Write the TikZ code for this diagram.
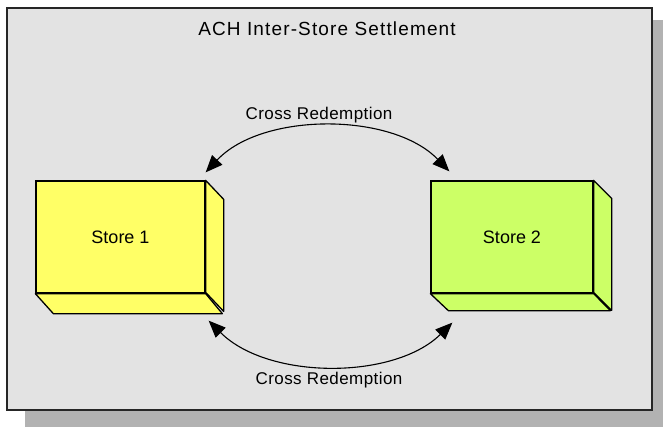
\documentclass[tikz,border=0pt]{standalone}
\usepackage{fontspec}
\setmainfont{Liberation Sans}
\usetikzlibrary{arrows.meta,calc}
\definecolor{bgpanel}{HTML}{E3E3E3}
\definecolor{shadowgray}{HTML}{B2B2B2}
\definecolor{storeyellow}{HTML}{FFFF66}
\definecolor{storelime}{HTML}{CCFF66}
\tikzset{
  storebox/.style={draw=black, line width=1.3pt, minimum width=#1, minimum height=112pt, inner sep=0pt,
    font=\fontsize{18}{20}\selectfont},
  boxface/.style={draw=black, line width=1.3pt, line join=round},
  redeem/.style={draw=black, line width=1.1pt,
    {Triangle[length=17pt,width=14pt]}-{Triangle[length=17pt,width=14pt]}},
  redeemlabel/.style={font=\fontsize{17}{19}\selectfont\addfontfeature{LetterSpace=2.5}, inner sep=0pt},
  titlelabel/.style={font=\fontsize{19}{21}\selectfont\addfontfeature{LetterSpace=6}, inner sep=0pt}
}
\begin{document}
\begin{tikzpicture}[x=1pt,y=-1pt]
\useasboundingbox (0,0) rectangle (663,427);
% shadow and panel
\fill[shadowgray] (25,20) rectangle (663,427);
\filldraw[fill=bgpanel, draw=black!85, line width=1.6pt] (7,8) rectangle (652,410);
\node[titlelabel] (title) at (327,29) {ACH Inter-Store Settlement};

% Store 1
\node[storebox=169pt, fill=storeyellow] (s1) at (120.5,237) {Store 1};
\filldraw[boxface, fill=storeyellow] (s1.north east) -- ++(18,19) -- ++(0,112) -- ++(-18,-19) -- cycle;
\filldraw[boxface, fill=storeyellow] (s1.south west) -- ++(18,20) -- ++(169,0) -- (s1.south east) -- cycle;

% Store 2
\node[storebox=162pt, fill=storelime] (s2) at (512,237) {Store 2};
\filldraw[boxface, fill=storelime] (s2.north east) -- ++(18,18) -- ++(0,112) -- ++(-18,-18) -- cycle;
\filldraw[boxface, fill=storelime] (s2.south west) -- ++(18,17) -- ++(162,0) -- (s2.south east) -- cycle;

% arrow end points near the stores
\coordinate (t1) at ($(s1.north east)+(0,-8)$);
\coordinate (t2) at ($(s2.north west)+(19,-9)$);
\coordinate (b1) at ($(s1.south east)+(3,27)$);
\coordinate (b2) at ($(s2.south west)+(22,29)$);

\draw[redeem] (t1) .. controls (262,112) and (392,112) .. (t2);
\draw[redeem] (b1) .. controls (268,380) and (394,380) .. (b2);

\node[redeemlabel] (lt) at (319,115) {Cross Redemption};
\node[redeemlabel] (lb) at (329,380) {Cross Redemption};
\end{tikzpicture}
\end{document}
